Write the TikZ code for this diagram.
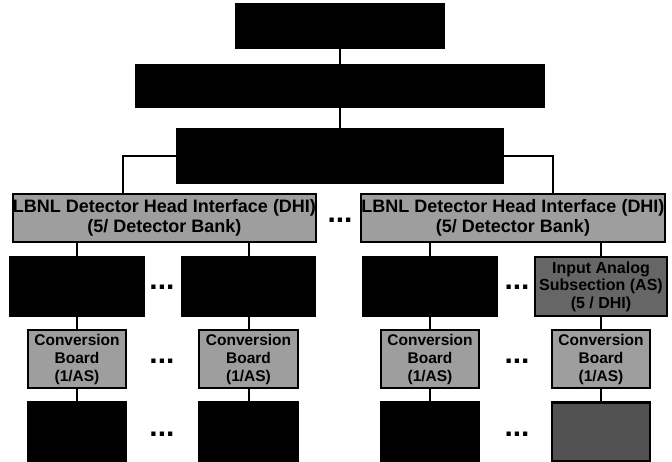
\documentclass[tikz,border=0pt]{standalone}
\usepackage{fontspec}
\setmainfont{Liberation Sans}
\begin{document}
\begin{tikzpicture}[x=1pt,y=-1pt,
  box/.style={draw=black, line width=2.2pt, inner sep=0pt, align=center,
    font=\bfseries},
  darkbox/.style={box, fill=black},
  greybox/.style={box, fill=black!38},
  midbox/.style={box, fill=black!60},
  deepbox/.style={box, fill=black!68},
  dhitext/.style={font=\fontsize{18}{20}\selectfont\bfseries},
  cbtext/.style={font=\fontsize{15.5}{18}\selectfont\bfseries},
  astext/.style={font=\fontsize{16}{17.5}\selectfont\bfseries},
  link/.style={line width=2pt},
  dotsn/.style={font=\fontsize{30}{30}\selectfont\bfseries, inner sep=0pt, anchor=base}
]
\useasboundingbox (0,0) rectangle (672,461);

% top levels
\node[darkbox, minimum width=208pt, minimum height=44pt] (top) at (340,26) {};
\node[darkbox, minimum width=408pt, minimum height=42pt] (second) at (340,86) {};
\node[darkbox, minimum width=326pt, minimum height=54pt] (third) at (340,156) {};

% DHI level
\node[greybox, dhitext, minimum width=303pt, minimum height=48pt] (dhiL) at (164.5,218)
  {LBNL Detector Head Interface (DHI)\\(5/ Detector Bank)};
\node[greybox, dhitext, minimum width=304pt, minimum height=48pt] (dhiR) at (513,218)
  {LBNL Detector Head Interface (DHI)\\(5/ Detector Bank)};
\node[dotsn] (dots1) at (340,222) {...};

% AS level
\node[darkbox, minimum width=133pt, minimum height=59pt] (asL1) at (77,286.5) {};
\node[darkbox, minimum width=132pt, minimum height=59pt] (asL2) at (248.5,286.5) {};
\node[darkbox, minimum width=134pt, minimum height=59pt] (asR1) at (430,286.5) {};
\node[midbox, astext, minimum width=132pt, minimum height=59pt] (asR2) at (601,286.5)
  {Input Analog\\Subsection (AS)\\(5 / DHI)};
\node[dotsn] (dots2) at (162,289) {...};
\node[dotsn] (dots3) at (517,289) {...};

% Conversion boards
\node[greybox, cbtext, minimum width=98pt, minimum height=58pt] (cbL1) at (77,359)
  {Conversion\\Board\\(1/AS)};
\node[greybox, cbtext, minimum width=99pt, minimum height=58pt] (cbL2) at (248.5,359)
  {Conversion\\Board\\(1/AS)};
\node[greybox, cbtext, minimum width=98pt, minimum height=58pt] (cbR1) at (430,359)
  {Conversion\\Board\\(1/AS)};
\node[greybox, cbtext, minimum width=98pt, minimum height=58pt] (cbR2) at (601,359)
  {Conversion\\Board\\(1/AS)};
\node[dotsn] (dots4) at (162,363) {...};
\node[dotsn] (dots5) at (517,363) {...};

% bottom level
\node[darkbox, minimum width=98pt, minimum height=59pt] (bL1) at (77,432) {};
\node[darkbox, minimum width=99pt, minimum height=59pt] (bL2) at (248.5,432) {};
\node[darkbox, minimum width=98pt, minimum height=59pt] (bR1) at (430,432) {};
\node[deepbox, minimum width=98pt, minimum height=59pt] (bR2) at (601,432) {};
\node[dotsn] (dots6) at (162,436) {...};
\node[dotsn] (dots7) at (517,436) {...};

% connectors
\draw[link] (top) -- (second);
\draw[link] (second) -- (third);
\draw[link] (third.west) -| ([xshift=-41.5pt]dhiL.north);
\draw[link] (third.east) -| ([xshift=40pt]dhiR.north);
\foreach \n/\p in {asL1/dhiL, asL2/dhiL, asR1/dhiR, asR2/dhiR}
  \draw[link] (\n.north) -- (\n.north |- \p.south);
\foreach \a/\b in {asL1/cbL1, asL2/cbL2, asR1/cbR1, asR2/cbR2,
                   cbL1/bL1, cbL2/bL2, cbR1/bR1, cbR2/bR2}
  \draw[link] (\a) -- (\b);
\end{tikzpicture}
\end{document}
